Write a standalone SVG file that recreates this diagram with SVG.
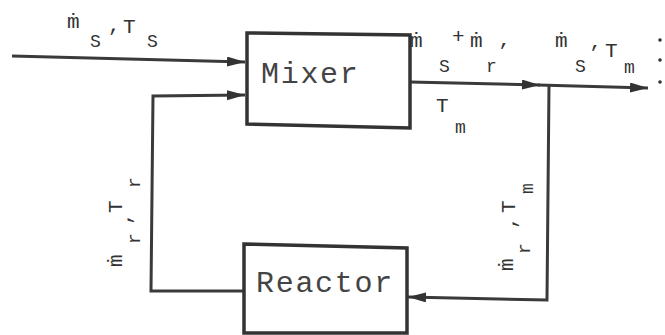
<svg xmlns="http://www.w3.org/2000/svg" width="665" height="335" viewBox="0 0 665 335">
<style>
.box{fill:none;stroke:#333;stroke-width:3.5;stroke-linejoin:miter}
.ln{fill:none;stroke:#3a3a3a;stroke-width:3}
.big{font-family:"Liberation Mono","DejaVu Sans Mono",monospace;font-size:30px;letter-spacing:1.7px;fill:#444}
.lb{font-family:"Liberation Mono","DejaVu Sans Mono",monospace;font-size:21px;fill:#333}
.sb{font-family:"Liberation Mono","DejaVu Sans Mono",monospace;font-size:18px;fill:#333}
</style>
<defs>
<marker id="ah" markerUnits="userSpaceOnUse" markerWidth="20" markerHeight="12" refX="18" refY="5" orient="auto">
<path d="M0,0 L18,5 L0,10 z" fill="#333"/>
</marker>
</defs>
<rect width="665" height="335" fill="#fff"/>
<g id="connectors">
<path class="ln" d="M12,56 L245,62" marker-end="url(#ah)"/>
<path class="ln" d="M244,291 L151,291 L153,96 L245,95" marker-end="url(#ah)"/>
<path class="ln" d="M410,82 L540,85" marker-end="url(#ah)"/>
<path class="ln" d="M538,85 L648,88" marker-end="url(#ah)"/>
<path class="ln" d="M549,85 L547,300 L408,297" marker-end="url(#ah)"/>
</g>
<g id="mixer">
<polygon class="box" points="247,33 410,35 410,128 247,124"/>
<text class="big" x="261" y="83">Mixer</text>
</g>
<g id="reactor">
<polygon class="box" points="244,244 407,248 407,333 244,333"/>
<text class="big" x="256" y="292">Reactor</text>
</g>
<g id="labels">
<text class="lb" x="67" y="28">ṁ</text>
<text class="sb" x="90" y="47">S</text>
<text class="lb" x="108" y="31">,</text>
<text class="lb" x="123" y="33">T</text>
<text class="sb" x="147" y="47">S</text>

<text class="lb" x="410" y="47">ṁ</text>
<text class="sb" x="439" y="72">S</text>
<text class="lb" x="452" y="43">+</text>
<text class="lb" x="470" y="47">ṁ</text>
<text class="sb" x="486" y="72">r</text>
<text class="lb" x="497" y="58">’</text>

<text class="lb" x="436" y="112">T</text>
<text class="sb" x="455" y="133">m</text>

<text class="lb" x="555" y="47">ṁ</text>
<text class="sb" x="575" y="72">S</text>
<text class="lb" x="588" y="60">’</text>
<text class="lb" x="605" y="57">T</text>
<text class="sb" x="624" y="73">m</text>
<circle cx="660" cy="40" r="1.8" fill="#333"/>
<circle cx="660" cy="60" r="1.8" fill="#333"/>
<circle cx="660" cy="82" r="1.8" fill="#333"/>

<g transform="translate(122,267) rotate(-90)">
<text class="lb" x="0" y="0">ṁ</text>
<text class="sb" x="23" y="18">r</text>
<text class="lb" x="42" y="8">,</text>
<text class="lb" x="54" y="0">T</text>
<text class="sb" x="79" y="18">r</text>
</g>
<g transform="translate(513,271) rotate(-90)">
<text class="lb" x="0" y="0">ṁ</text>
<text class="sb" x="17" y="17">r</text>
<text class="lb" x="42" y="2">,</text>
<text class="lb" x="58" y="2">T</text>
<text class="sb" x="77" y="20">m</text>
</g>
</g>
</svg>
